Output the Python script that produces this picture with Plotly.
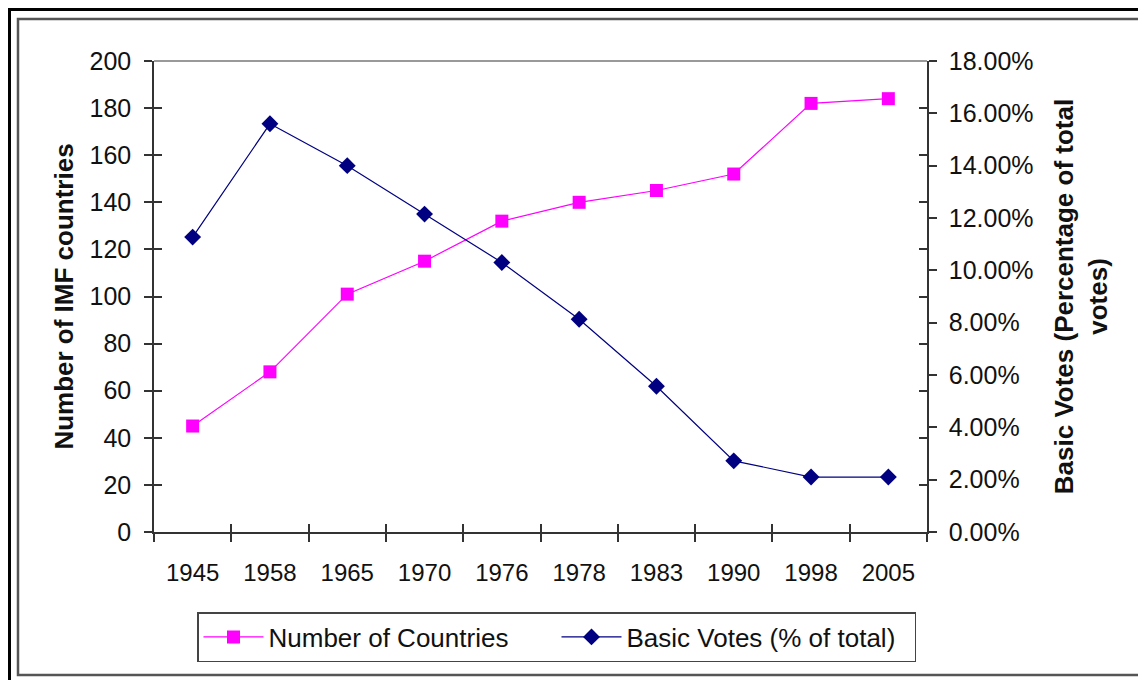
import plotly.graph_objects as go

years = ["1945", "1958", "1965", "1970", "1976", "1978", "1983", "1990", "1998", "2005"]
countries = [45, 68, 101, 115, 132, 140, 145, 152, 182, 184]
basic_votes = [0.1127, 0.156, 0.140, 0.1215, 0.103, 0.0813, 0.0557, 0.0272, 0.0210, 0.0210]

FONT = "Liberation Sans, Arial, sans-serif"
OFF = 8  # page body margin
W, H = 1140, 674
L, R, T, B = 154 - OFF, 927 - OFF, 61 - OFF, 532 - OFF


def px(x):
    return (x - OFF - L) / (R - L)


def py(y):
    return (B - (y - OFF)) / (B - T)


TICK_FONT = dict(family=FONT, size=25, color="#111111")
TITLE_FONT = dict(family=FONT, size=26, color="#111111")

fig = go.Figure()
fig.add_trace(go.Scatter(
    x=years, y=countries, name="Number of Countries", mode="lines+markers",
    line=dict(color="#FF00FF", width=1.2),
    marker=dict(symbol="square", size=13, color="#FF00FF"),
    xaxis="x", yaxis="y"))
fig.add_trace(go.Scatter(
    x=years, y=basic_votes, name="Basic Votes (% of total)", mode="lines+markers",
    line=dict(color="#000080", width=1.2),
    marker=dict(symbol="diamond", size=13, color="#000080"),
    xaxis="x", yaxis="y2"))

axis_common = dict(showgrid=False, zeroline=False, showline=True, linecolor="#333333",
                   linewidth=1.5, ticks="outside", ticklen=8, tickcolor="#333333", tickwidth=1.5)
tick_only = dict(showgrid=False, zeroline=False, showline=False, ticks="inside", ticklen=8,
                 tickcolor="#333333", tickwidth=1.5, showticklabels=False)

fig.update_layout(
    width=W, height=H,
    margin=dict(l=L, r=W - R, t=T, b=H - B),
    paper_bgcolor="white", plot_bgcolor="white",
    showlegend=True,
    xaxis=dict(type="category", tickson="boundaries", range=[-0.5, 9.5],
               ticklabelstandoff=18, tickfont=dict(family=FONT, size=24, color="#111111"),
               **axis_common),
    xaxis2=dict(type="category", overlaying="x", matches="x", tickson="boundaries",
                side="bottom", anchor="y", **tick_only),
    yaxis=dict(range=[0, 200], dtick=20, ticklabelstandoff=8, tickfont=TICK_FONT,
               title=dict(text="<b>Number of IMF countries</b>", font=TITLE_FONT, standoff=8),
               **axis_common),
    yaxis2=dict(range=[0, 0.18], dtick=0.02, tickformat=".2%", overlaying="y", side="right",
                ticklabelstandoff=7, tickfont=TICK_FONT,
                title=dict(text="<b>Basic Votes (Percentage of total<br>votes)</b>",
                           font=TITLE_FONT, standoff=22),
                **axis_common),
    yaxis3=dict(range=[0, 200], dtick=20, overlaying="y", side="left", anchor="x", **tick_only),
    yaxis4=dict(range=[0, 200], dtick=20, overlaying="y", side="right", anchor="x", **tick_only),
    legend=dict(orientation="h", x=px(197), xanchor="left", y=py(612), yanchor="top",
                bordercolor="#444444", borderwidth=1.5, bgcolor="white",
                font=TITLE_FONT, itemwidth=60,
                entrywidth=283, entrywidthmode="pixels", tracegroupgap=0),
)

# invisible traces so the tick-only overlay axes render
fig.add_trace(go.Scatter(x=years, y=countries, xaxis="x2", yaxis="y3", mode="none",
                         showlegend=False, hoverinfo="skip"))
fig.add_trace(go.Scatter(x=years, y=countries, xaxis="x2", yaxis="y4", mode="none",
                         showlegend=False, hoverinfo="skip"))

# top border of plot area and the two outer frames
fig.add_shape(type="line", xref="paper", yref="paper", x0=0, x1=1, y0=1, y1=1,
              line=dict(color="#777777", width=1.5))
fig.add_shape(type="rect", xref="paper", yref="paper",
              x0=px(18), x1=px(1142), y0=py(675), y1=py(19),
              line=dict(color="#555555", width=2.5), layer="below")
fig.add_shape(type="rect", xref="paper", yref="paper",
              x0=px(9.5), x1=px(1170), y0=py(700), y1=py(9.5),
              line=dict(color="#000000", width=3), layer="below")

fig.write_html("out.html")
